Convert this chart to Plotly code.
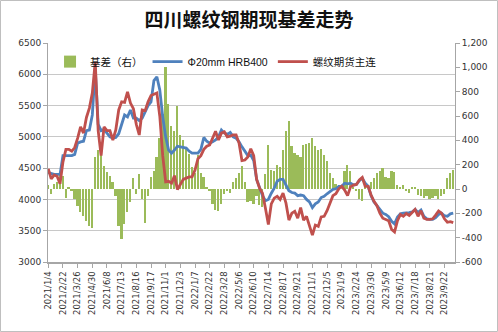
import plotly.graph_objects as go

# Trading-day labels on the category axis (one every 25 sessions)
date_labels = [
    "2021/1/4", "2021/2/22", "2021/3/26", "2021/4/30", "2021/6/8", "2021/7/13",
    "2021/8/16", "2021/9/17", "2021/11/1", "2021/12/3", "2022/1/7", "2022/2/22",
    "2022/3/28", "2022/5/6", "2022/6/10", "2022/7/14", "2022/8/17", "2022/9/21",
    "2022/11/1", "2022/12/5", "2023/1/9", "2023/2/24", "2023/3/30", "2023/5/9",
    "2023/6/12", "2023/7/18", "2023/8/21", "2023/9/22",
]
SESSIONS_PER_LABEL = 25
SESSIONS_PER_POINT = 5

# Sichuan spot price, Φ20mm HRB400 (yuan/t), weekly samples
spot = [
    4430, 4410, 4400, 4400, 4400, 4700, 4700, 4710, 4700, 4720,
    4900, 4920, 4930, 5100, 5110, 5350, 6100, 5200, 5100, 5120,
    5050, 5000, 4980, 4990, 5050, 5220, 5350, 5320, 5430, 5300,
    5300, 5260, 5300, 5400, 5500, 5560, 5900, 5960, 5750, 5320,
    5000, 4790, 4740, 4790, 4850, 4840, 4830, 4820, 4770, 4740,
    4740, 4740, 4800, 4990, 4930, 4900, 4920, 4950, 5000, 5110,
    5060, 5040, 5070, 5000, 4980, 4920, 4840, 4760, 4700, 4710,
    4620, 4320, 4170, 4060, 3980, 4000, 4100, 4180, 4290, 4320,
    4320, 4230, 4140, 4110, 4100, 4060, 4070, 4060, 4000, 3960,
    3870, 3930, 3960, 4030, 4050, 4090, 4130, 4160, 4170, 4210,
    4210, 4260, 4250, 4260, 4230, 4240, 4300, 4340, 4260, 4210,
    4060, 3960, 3900, 3830, 3780, 3760, 3725, 3650, 3610, 3720,
    3770, 3780, 3780, 3790, 3800, 3840, 3790, 3830, 3730, 3690,
    3680, 3680, 3710, 3760, 3780, 3740, 3730, 3770, 3780,
]

# Rebar futures continuous contract (yuan/t)
futures = [
    4490, 4330, 4390, 4370, 4250, 4600, 4800, 4800, 4770, 4830,
    4980, 5160, 5060, 5310, 5460, 5700, 6200, 5100, 4700, 5160,
    5100, 5100, 4950, 5110, 5430, 5560, 5550, 5720, 5540, 5450,
    5200, 5030, 5430, 5420, 5560, 5660, 5680, 5700, 5330, 4700,
    4280, 4290, 4260, 4380, 4160, 4250, 4320, 4340, 4360, 4360,
    4470, 4650, 4700, 4800, 4850, 4870, 4990, 5090, 4950, 5060,
    5080, 5000, 5010, 5030, 5030, 4900, 4620, 4630, 4680, 4810,
    4700, 4320, 4180, 4100, 3860, 3600, 3930, 4020, 4050, 4000,
    4100, 3940, 3670, 3780, 3810, 3700, 3870, 3670, 3730, 3590,
    3430, 3590, 3570, 3720, 3730, 3820, 3940, 4060, 4090, 4170,
    4210, 4150, 4060, 4200, 4230, 4240, 4310, 4350, 4210, 4210,
    4070, 3970, 3900, 3780, 3700, 3680, 3660, 3520, 3480, 3660,
    3760, 3730, 3775, 3745, 3790, 3840, 3730, 3820, 3700, 3680,
    3680, 3690, 3750, 3815, 3780, 3690, 3635, 3645, 3630,
]

# Basis (right axis, yuan/t)
basis = [
    30, -40, 40, 60, 140, 110, -70, 20, -20, -80,
    -140, -190, -220, -260, -300, -320, 260, 320, 280, 190,
    140, 110, 60, -60, -300, -410, -290, -190, -110, 90,
    -40, 120, -80, -280, -60, 100, 150, 260, 420, 620,
    1000, 700, 520, 480, 680, 440, 400, 330, 290, 180,
    130, 280, 130, 100, 10, -20, -120, -170, -180, -120,
    -40, -20, -30, 60, 90, 130, 190, 60, -110, -100,
    -120, -60, -130, -150, 120, 360, 160, 150, 200, 180,
    320, 480, 560, 350, 300, 280, 260, 360, 370, 380,
    420, 350, 320, 330, 280, 230, 130, 90, 40, 20,
    0, 150, 200, 150, 10, -20, -80, -100, 10, 0,
    60, 90, 130, 150, 170, 100, 90, 150, 140, 30,
    20, 30, -20, -30, 20, 10, -50, -60, -70, -60,
    -80, -70, -60, -80, -60, -40, 90, 130, 160,
]

price_ticks = [3000, 3500, 4000, 4500, 5000, 5500, 6000, 6500]
basis_ticks = [-600, -400, -200, 0, 200, 400, 600, 800, 1000, 1200]
basis_tick_text = ["-600", "-400", "-200", "0", "200", "400", "600", "800", "1,000", "1,200"]

x = [k * SESSIONS_PER_POINT for k in range(len(spot))]
label_pos = [k * SESSIONS_PER_LABEL for k in range(len(date_labels))]

GREEN = "#9BBB59"
BLUE = "#4F81BD"
RED = "#C0504D"
AXIS = "#A6A6A6"
GRID = "#C8C8C8"
TICK_FONT = dict(family="DejaVu Sans", size=9, color="#333333")

fig = go.Figure()
fig.add_trace(go.Bar(
    x=x, y=basis, name="基差（右）", marker=dict(color=GREEN, line=dict(width=0)),
    width=SESSIONS_PER_POINT * 0.6, yaxis="y",
))
fig.add_trace(go.Scatter(
    x=x, y=spot, name="Φ20mm HRB400", mode="lines",
    line=dict(color=BLUE, width=2.8), yaxis="y2",
))
fig.add_trace(go.Scatter(
    x=x, y=futures, name="螺纹期货主连", mode="lines",
    line=dict(color=RED, width=2.8), yaxis="y2",
))

W, H = 498, 332
ML, MR, MT, MB = 48, 43, 43, 70
pw, ph = W - ML - MR, H - MT - MB

fig.update_layout(
    width=W, height=H,
    margin=dict(l=ML, r=MR, t=MT, b=MB, autoexpand=False),
    paper_bgcolor="white", plot_bgcolor="white",
    font=dict(family="Liberation Sans, Noto Sans CJK SC", size=10, color="#222222"),
    title=dict(
        text="<b>四川螺纹钢期现基差走势</b>", x=0.5, xanchor="center",
        y=1 - 20 / H, yanchor="middle", yref="container",
        font=dict(family="Noto Sans CJK SC", size=19, color="#111111"),
    ),
    showlegend=True,
    legend=dict(
        orientation="h", x=0.005, xanchor="left", y=0.915, yanchor="middle",
        bgcolor="rgba(0,0,0,0)", font=dict(family="Liberation Sans, Noto Sans CJK SC", size=10.5, color="#111111"),
        itemwidth=30, tracegroupgap=0, traceorder="normal",
    ),
    bargap=0,
    xaxis=dict(
        range=[-0.5, 693], tickmode="array", tickvals=label_pos, ticktext=date_labels,
        tickangle=-90, tickfont=dict(family="DejaVu Sans", size=8.5, color="#333333"),
        showline=True, linecolor=AXIS, linewidth=2, ticks="outside", ticklen=4,
        tickcolor=AXIS, showgrid=False, zeroline=False, automargin=False,
    ),
    yaxis=dict(
        side="right", range=[-600, 1200], tickmode="array", tickvals=basis_ticks,
        ticktext=basis_tick_text, tickfont=TICK_FONT, showgrid=False, zeroline=False,
        showline=True, linecolor=AXIS, linewidth=1, ticks="outside", ticklen=4,
        tickcolor=AXIS, automargin=False,
    ),
    yaxis2=dict(
        side="left", overlaying="y", range=[3000, 6500], tickmode="array",
        tickvals=price_ticks, tickfont=TICK_FONT, showgrid=True, gridcolor=GRID,
        gridwidth=1, zeroline=False, showline=True, linecolor=AXIS, linewidth=1,
        ticks="outside", ticklen=4, tickcolor=AXIS, automargin=False,
    ),
    shapes=[dict(
        type="rect", xref="paper", yref="paper",
        x0=(-ML + 0.5) / pw, x1=1 + (MR - 0.5) / pw,
        y0=(-MB + 0.5) / ph, y1=1 + (MT - 0.5) / ph,
        line=dict(color="#BFBFBF", width=1), fillcolor="rgba(0,0,0,0)", layer="below",
    )],
)

fig.write_html("out.html")
